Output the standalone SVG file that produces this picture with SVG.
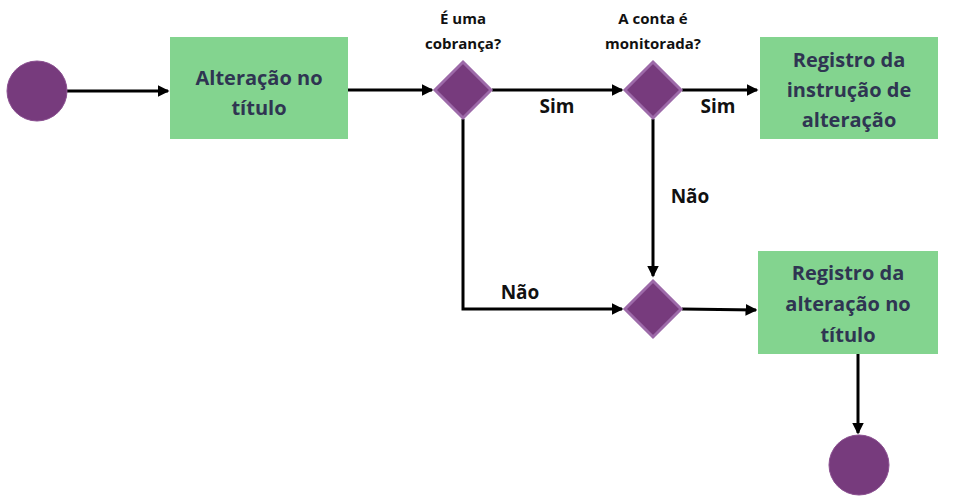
<svg xmlns="http://www.w3.org/2000/svg" width="955" height="504" viewBox="0 0 955 504">
<style>
.box{fill:#83d48f}
.dia{fill:#773b7d;stroke:#9d6aa9;stroke-width:3}
.circ{fill:#773b7d;stroke:#8a4f90;stroke-width:1}
.t{font-family:"Open Sans",sans-serif;font-weight:bold;font-size:20px;fill:#2f3552;text-anchor:middle}
.q{font-family:"Open Sans",sans-serif;font-weight:bold;font-size:15px;fill:#111;text-anchor:middle}
.l{font-family:"Open Sans",sans-serif;font-weight:bold;font-size:19px;fill:#111;text-anchor:middle}
.c{fill:none;stroke:#000;stroke-width:3;marker-end:url(#a)}
</style>
<defs><marker id="a" markerWidth="4" markerHeight="4" refX="3.5" refY="2" orient="auto"><path d="M0,0L4,2L0,4z" fill="#000"/></marker></defs>
<g id="connectors">
<path class="c" d="M67,91H168"/>
<path class="c" d="M348,90H432"/>
<path class="c" d="M492,90H622"/>
<path class="c" d="M682,90H757"/>
<path class="c" d="M653,119V276"/>
<path class="c" d="M463,119V309H622"/>
<path class="c" d="M682,309L756,310"/>
<path class="c" d="M858,354V433"/>
</g>
<g id="start"><circle class="circ" cx="37" cy="91" r="30"/></g>
<g id="n1"><rect class="box" x="170" y="37" width="178" height="102"/><text class="t" x="259" y="85">Alteração no</text><text class="t" x="259" y="115">título</text></g>
<g id="d1"><path class="dia" d="M463,62L491,90L463,118L435,90z"/><text class="q" x="463" y="24">É uma</text><text class="q" x="463" y="49">cobrança?</text></g>
<g id="d2"><path class="dia" d="M653,62L681,90L653,118L625,90z"/><text class="q" x="653" y="24">A conta é</text><text class="q" x="653" y="49">monitorada?</text></g>
<g id="n2"><rect class="box" x="760" y="37" width="178" height="102"/><text class="t" x="849" y="67">Registro da</text><text class="t" x="849" y="97">instrução de</text><text class="t" x="849" y="127">alteração</text></g>
<g id="d3"><path class="dia" d="M653,281L681,309L653,337L625,309z"/></g>
<g id="n3"><rect class="box" x="758" y="251" width="180" height="103"/><text class="t" x="848" y="280">Registro da</text><text class="t" x="848" y="311">alteração no</text><text class="t" x="848" y="342">título</text></g>
<g id="end"><circle class="circ" cx="859" cy="465" r="30"/></g>
<g id="labels">
<text class="l" x="557" y="113">Sim</text>
<text class="l" x="718" y="113">Sim</text>
<text class="l" x="690" y="203">Não</text>
<text class="l" x="520" y="299">Não</text>
</g>
</svg>
